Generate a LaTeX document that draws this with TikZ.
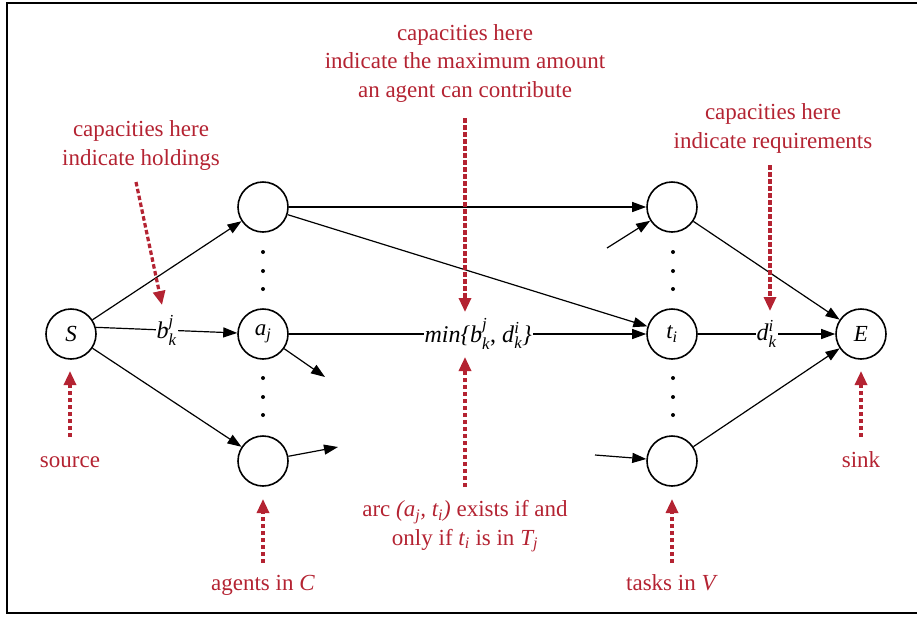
\documentclass[tikz,border=0pt]{standalone}
\usepackage{fontspec}
\setmainfont{Liberation Serif}
\usepackage{amsmath}
\usetikzlibrary{arrows.meta}
\definecolor{annot}{RGB}{180,35,50}
\newcommand\supsub[3]{\textit{#1}$^{\text{\itshape #2}}_{\text{\itshape #3}}$}
\begin{document}
\begin{tikzpicture}[x=1pt,y=-1pt,
  vtx/.style={circle,draw,line width=1.6pt,minimum size=50pt,inner sep=0pt,font=\fontsize{23}{27}\selectfont\itshape},
  edge/.style={line width=1.2pt,-{Triangle[length=14pt,width=10pt]}},
  lab/.style={fill=white,inner sep=1pt,font=\fontsize{24}{28}\selectfont},
  note/.style={text=annot,align=center,anchor=base,font=\fontsize{23}{28.5}\selectfont},
  pointer/.style={draw=annot,line width=3.2pt,dash pattern=on 4.5pt off 2.5pt,-{Triangle[length=14pt,width=12pt]}}
]
\useasboundingbox (0,0) rectangle (917,619);
\draw[line width=2pt] (917,3) -- (7,3) -- (7,613) -- (917,613);

% nodes
\node[vtx] (S) at (71,334) {S};
\node[vtx] (at) at (263,207) {};
\node[vtx] (aj) at (263,334) {a\textsubscript{\itshape j}};
\node[vtx] (ab) at (263,461) {};
\node[vtx] (tt) at (672,207) {};
\node[vtx] (ti) at (672,334) {t\textsubscript{\itshape i}};
\node[vtx] (tb) at (672,461) {};
\node[vtx] (E) at (861,334) {E};

% dots
\foreach \y in {252,271,289,378,397,415}{
  \fill (263,\y) circle (2pt);
  \fill (673,\y) circle (2pt);
}

% stubs
\coordinate (c1) at (325,377);
\coordinate (c2) at (338,447);
\coordinate (c3) at (607,248);
\coordinate (c4) at (595,455);

% edges
\draw[edge] (S) -- (at);
\draw[edge] (S.15) -- node[lab,pos=0.5]{\supsub{b}{j}{k}} (aj);
\draw[edge] (S) -- (ab);
\draw[edge] (at) -- (tt);
\draw[edge] (at) -- (ti);
\draw[edge] (aj) -- node[lab,pos=0.53]{\textit{min\{}\supsub{b}{j}{k}, \supsub{d}{i}{k}\textit{\}}} (ti);
\draw[edge] (aj) -- (c1);
\draw[edge] (ab) -- (c2);
\draw[edge] (c3) -- (tt);
\draw[edge] (c4) -- (tb);
\draw[edge] (tt) -- (E);
\draw[edge] (ti) -- node[lab,pos=0.5]{\supsub{d}{i}{k}} (E);
\draw[edge] (tb) -- (E);

% notes (anchor=base is the baseline of the last line)
\node[note] (n1) at (141,165) {capacities here\\indicate holdings};
\node[note] (n2) at (465,97) {capacities here\\indicate the maximum amount\\an agent can contribute};
\node[note] (n3) at (773,148) {capacities here\\indicate requirements};
\node[note] (n4) at (70,467) {source};
\node[note] (n5) at (263,590) {agents in \textit{C}};
\node[note] (n6) at (465,545) {arc \textit{(a\textsubscript{j}, t\textsubscript{i})} exists if and\\only if \textit{t\textsubscript{i}} is in \textit{T\textsubscript{j}}};
\node[note] (n7) at (672,590) {tasks in \textit{V}};
\node[note] (n8) at (861,467) {sink};

% pointer ends
\coordinate (p1s) at (136,182); \coordinate (p1e) at (162,305);
\coordinate (p2s) at (465,118); \coordinate (p2e) at (465,312);
\coordinate (p3s) at (770,165); \coordinate (p3e) at (770,311);
\coordinate (p4s) at (70,437);  \coordinate (p4e) at (70,371);
\coordinate (p5s) at (263,563); \coordinate (p5e) at (263,499);
\coordinate (p6s) at (465,487); \coordinate (p6e) at (465,357);
\coordinate (p7s) at (672,563); \coordinate (p7e) at (672,499);
\coordinate (p8s) at (861,437); \coordinate (p8e) at (861,371);
\foreach \i in {1,...,8}{\draw[pointer] (p\i s) -- (p\i e);}
\end{tikzpicture}
\end{document}
